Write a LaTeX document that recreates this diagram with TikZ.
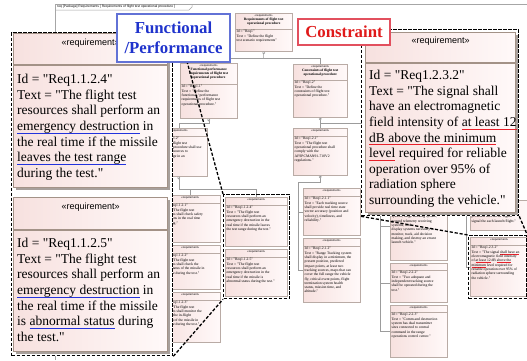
\documentclass[tikz,border=0pt]{standalone}
\usepackage{fontspec}
\setmainfont{Liberation Serif}[Ligatures=TeXOff]
\setsansfont{Liberation Sans}
\usetikzlibrary{shadows}

\definecolor{reqpinkL}{HTML}{F7E1DF}
\definecolor{reqpinkR}{HTML}{FFF9F9}
\definecolor{reqedge}{HTML}{A39287}
\definecolor{minedge}{HTML}{B9ABA5}
\definecolor{wiregray}{HTML}{9C9C9C}
\definecolor{shade}{HTML}{A8A09C}
\definecolor{fpblue}{HTML}{1F33CC}
\definecolor{fpedge}{HTML}{6272D6}
\definecolor{crred}{HTML}{E01A1A}
\definecolor{credge}{HTML}{E2505E}
\definecolor{markblue}{HTML}{2233DD}
\definecolor{markred}{HTML}{E8202A}

% coloured underline below a phrase
\newcommand\markline[2]{\setbox0\hbox{#2}\rlap{\color{#1}\rule[-3.3pt]{\wd0}{1.2pt}}\box0\relax}
\newcommand\minimark[1]{\setbox0\hbox{#1}\rlap{\color{markred}\rule[-0.9pt]{\wd0}{0.3pt}}\box0\relax}

\tikzset{
  minibox/.style={draw=minedge, line width=0.5pt, left color=reqpinkL, right color=reqpinkR,
    inner sep=0pt, drop shadow={shadow xshift=0.8pt, shadow yshift=-0.8pt, fill=shade!70, opacity=1}},
  minisep/.style={draw=minedge, line width=0.4pt},
  minihead/.style={inner sep=0pt, align=center, font=\fontsize{3.5}{4.1}\selectfont},
  minitext/.style={inner xsep=1.5pt, inner ysep=1.2pt, align=left, font=\fontsize{3.7}{4.3}\selectfont},
  bigbox/.style={draw=reqedge, line width=1.4pt, left color=reqpinkL, right color=reqpinkR,
    inner sep=0pt, drop shadow={shadow xshift=2.2pt, shadow yshift=-2.2pt, fill=shade, opacity=1}},
  bigsep/.style={draw=reqedge, line width=1.2pt},
  bighead/.style={inner sep=0pt, font=\sffamily\fontsize{9}{11}\selectfont},
  bigtext/.style={inner sep=0pt, align=left, font=\fontsize{13.5}{15.6}\selectfont},
  hilite/.style={draw=black, line width=1.3pt, dash pattern=on 3.2pt off 1.8pt},
  hilitearea/.style={hilite, fill=white},
  fplabel/.style={draw=fpedge, line width=1.1pt, fill=white, inner sep=0pt, text=fpblue,
    align=center, font=\bfseries\fontsize{16.8}{20}\selectfont},
  crlabel/.style={draw=credge, line width=1.1pt, fill=white, inner sep=0pt, text=crred,
    font=\bfseries\fontsize{16.8}{20}\selectfont},
  wire/.style={draw=wiregray, line width=0.5pt},
  frameline/.style={draw=gray!70, line width=0.5pt},
  ownsym/.style={circle, draw=wiregray, fill=white, line width=0.3pt, inner sep=0pt,
    minimum size=2.4pt, anchor=north,
    path picture={\draw[wiregray, line width=0.3pt]
      (path picture bounding box.north) -- (path picture bounding box.south)
      (path picture bounding box.west) -- (path picture bounding box.east);}},
}

% small requirement block: name, x, y, width, height, header depth, title lines, body
\newcommand\minireq[8]{%
  \node[minibox, anchor=north west, minimum width=#4pt, minimum height=#5pt] (#1) at (#2,#3) {};
  \draw[minisep] ([yshift=-#6pt]#1.north west) -- ([yshift=-#6pt]#1.north east);
  \node[minihead, anchor=north] (#1-h) at ([yshift=-1.2pt]#1.north)
    {{\sffamily\fontsize{2.8}{4.1}\selectfont «requirement»}#7};
  \node[minitext, anchor=north west] (#1-t) at ([yshift=-#6pt]#1.north west) {#8};
}
% block partly covered by a call-out: name, x, y, width, height, text x-offset, text y-offset, visible text
\newcommand\tailreq[8]{%
  \node[minibox, anchor=north west, minimum width=#4pt, minimum height=#5pt] (#1) at (#2,#3) {};
  \node[minitext, anchor=north west] (#1-t) at ([xshift=#6pt, yshift=-#7pt]#1.north west) {#8};
}

\begin{document}
\begin{tikzpicture}[x=1pt, y=-1pt]
\useasboundingbox (0,0) rectangle (527,360);
\clip (0,0) rectangle (527,360);
\fill[white] (0,0) rectangle (527,360);

% diagram frame and its name tab
\draw[frameline] (55,360) |- (530,4);
\draw[frameline] (55,10) -- (189,10) -- (192,7) -- (192,4);
\node[anchor=west, inner sep=0pt, font=\sffamily\fontsize{3.3}{4}\selectfont] (tabtext) at (57,7)
  {req [Package] Requirements [ Requirements of flight test operational procedure ]};

% containment tree
\coordinate (bus1) at (263.5,58);
\coordinate (cjoin) at (320,123);
\coordinate (cright) at (362,123);
\coordinate (t2) at (298,182);
\coordinate (t3) at (380,215);
\coordinate (t4) at (466,215);

% requirement blocks
\minireq{r1}{235}{13}{57}{38}{16}
  {\\\textbf{Requirements of flight test}\\\textbf{operational procedure}}
  {Id = "Req1"\\Text = "Define the flight\\test scenario requirements"}
\minireq{r11}{180}{63}{57}{55}{21}
  {\\\textbf{Functional performance}\\\textbf{requirements of flight test}\\\textbf{operational procedure}}
  {Id = "Req1.1"\\Text = "Define the\\functional / performance\\requirements of flight test\\operational procedure."}
\minireq{r12}{293}{64}{54}{53}{16}
  {\\\textbf{Constraints of flight test}\\\textbf{operational procedure}}
  {Id = "Req1.2"\\Text = "Define the\\constraints of flight test\\operational procedure."}
\node[minibox, anchor=north west, minimum width=57pt, minimum height=48pt] (r112) at (150,128) {};
\draw[minisep] ([yshift=-8pt]r112.north west) -- ([yshift=-8pt]r112.north east);
\node[minihead, anchor=north] (r112-h) at ([yshift=-1.2pt]r112.north)
  {\sffamily\fontsize{2.8}{4.1}\selectfont «requirement»};
\node[minitext, anchor=north west, inner xsep=0pt] (r112-t) at (172.8,136)
  {1.2"\\flight test\\procedure shall use\\sources to\\ge in an};
\minireq{r121}{293}{128}{54}{47}{8}{}
  {Id = "Req1.2.1"\\Text = "The flight test\\operational procedure shall\\comply with the\\AFSPCMAN91-710V2\\regulations."}
\minireq{r1121}{160}{195}{60}{47}{8}{}
  {Id = "Req1.1.2.1"\\Text = "The flight test\\resources shall check safety\\conditions in the real time\\of testing."}
\minireq{r1122}{160}{245}{60}{44}{8}{}
  {Id = "Req1.1.2.2"\\Text = "The flight test\\resources shall check the\\flying status of the missile in\\real time during the test."}
\minireq{r1123}{160}{292}{60}{50}{8}{}
  {Id = "Req1.1.2.3"\\Text = "The flight test\\resources shall monitor the\\state of the in-flight\\location of the missile in\\real time during the test."}
\minireq{r1124}{225}{197}{62}{49}{8}{}
  {Id = "Req1.1.2.4"\\Text = "The flight test\\resources shall perform an\\emergency destruction in the\\real time if the missile leaves\\the test range during the test."}
\minireq{r1125}{225}{249}{62}{47}{8}{}
  {Id = "Req1.1.2.5"\\Text = "The flight test\\resources shall perform an\\emergency destruction in the\\real time if the missile is\\abnormal status during the test."}
\minireq{r1211}{303}{188}{57}{47}{8}{}
  {Id = "Req1.2.1.1"\\Text = "Each tracking source\\shall provide real time state\\vector accuracy (position and\\velocity), timeliness, and\\reliability."}
\minireq{r1212}{303}{238}{57}{64}{8}{}
  {Id = "Req1.2.1.2"\\Text = "Range Tracking system\\shall display in a minimum, the\\present position, predicted\\impact points, at least two\\tracking sources, maps that can\\cover the full range the vehicle\\fly, critical event points, flight\\termination system health\\status, mission time, and\\altitude."}
\tailreq{r1221}{390}{192}{57}{68}{0}{22}
  {system, range tracking system,\\ground telemetry receiving\\systems, and\\display systems necessary to\\monitor, track, aid decision\\making, and destroy an errant\\launch vehicle."}
\minireq{r1222}{390}{263}{57}{39}{7}{}
  {Id = "Req1.2.2.2"\\Text = "Two adequate and\\independent tracking source\\shall be operated during the\\test."}
\minireq{r1223}{390}{305}{57}{52}{7}{}
  {Id = "Req1.2.2.3"\\Text = "Comm and destruction\\system has dual transmitter\\sites connected to central\\command in the range\\operations control center."}
\tailreq{r1231}{470}{200}{60}{30}{0}{14}
  {provided with an RF signal\\signal the each launch/flight."}
\minireq{r1232}{470}{237}{58}{59}{8}{}
  {Id = "Req1.2.3.2"\\Text = "The signal \minimark{shall have an}\\electromagnetic field intensity\\of \minimark{at least 12} dB \minimark{above the}\\\minimark{minimum} level required for\\reliable operation over 95\% of\\radiation sphere surrounding\\the vehicle."}

% containment connectors
\draw[wire] (r1.south) -- (bus1);
\draw[wire] (r11.north) |- (bus1);
\draw[wire] (r12.north) |- (bus1);
\draw[wire] (r11.south) -- ++(0,5) -| (r112.north);
\draw[wire] (r12.south) -- (r121.north);
\draw[wire] (cjoin) -- (cright);
\draw[wire] (r112.south) -- ++(0,13) -| (r1124.north);
\draw[wire] (r1121.north) -- ++(0,-6);
\draw[wire] (r121.south) |- (t2) |- (r1212.west);
\draw[wire] (t2 |- r1211.west) -- (r1211.west);
\draw[wire] (t3) |- (r1223.west);
\draw[wire] (t3 |- r1222.west) -- (r1222.west);
\draw[wire] (t3 |- r1221.west) -- (r1221.west);
\draw[wire] (t4) |- (r1232.west);
\node[ownsym] (o1) at (r1.south) {};
\node[ownsym] (o11) at (r11.south) {};
\node[ownsym] (o12) at (r12.south) {};
\node[ownsym] (o121) at (r121.south) {};
\node[ownsym] (o112) at (r112.south) {};

% highlighted blocks in the diagram
\node[hilite, anchor=north west, minimum width=66pt, minimum height=104pt, inner sep=0pt] (spotA) at (223,194) {};
\node[hilite, anchor=north west, minimum width=58pt, minimum height=63pt, inner sep=0pt] (spotC) at (468,235) {};

% enlarged call-outs
\node[hilitearea, anchor=north west, minimum width=161pt, minimum height=323pt, inner sep=0pt] (zoomA) at (11,32) {};
\coordinate (zoomAtop) at (179,32);
\draw[hilite] (zoomAtop) -- (spotA.north west);
\draw[hilite] (zoomA.south east) -- (spotA.south west);
\node[hilitearea, anchor=north west, minimum width=157pt, minimum height=186pt, inner sep=0pt] (zoomC) at (361,29) {};
\draw[hilite] (zoomC.south west) -- (spotC.north west);
\draw[hilite] (zoomC.south east) -- (spotC.north east);

% enlarged requirement 1.1.2.4
\node[bigbox, anchor=north west, minimum width=154pt, minimum height=154pt] (reqA) at (13,33) {};
\draw[bigsep] ([yshift=-32pt]reqA.north west) -- ([yshift=-32pt]reqA.north east);
\node[bighead] (reqA-h) at ([yshift=-10pt]reqA.north) {«requirement»};
\node[bigtext, anchor=north west] (reqA-t) at (17,72.5)
  {\rule{0pt}{11pt}Id = "Req1.1.2.4"\\
   Text = "The flight test\\
   resources shall perform an\\
   \markline{markblue}{emergency destruction} in\\
   the real time if the missile\\
   \markline{markblue}{leaves the test range}\\
   during the test."};

% enlarged requirement 1.1.2.5
\node[bigbox, anchor=north west, minimum width=154pt, minimum height=154pt] (reqB) at (13,197) {};
\draw[bigsep] ([yshift=-33pt]reqB.north west) -- ([yshift=-33pt]reqB.north east);
\node[bighead] (reqB-h) at ([yshift=-10pt]reqB.north) {«requirement»};
\node[bigtext, anchor=north west] (reqB-t) at (17,236.5)
  {\rule{0pt}{11pt}Id = "Req1.1.2.5"\\
   Text = "The flight test\\
   resources shall perform an\\
   \markline{markblue}{emergency destruction} in\\
   the real time if the missile\\
   is \markline{markblue}{abnormal status} during\\
   the test."};

% enlarged requirement 1.2.3.2
\node[bigbox, anchor=north west, minimum width=150pt, minimum height=180pt] (reqC) at (365,32) {};
\draw[bigsep] ([yshift=-31pt]reqC.north west) -- ([yshift=-31pt]reqC.north east);
\node[bighead] (reqC-h) at ([yshift=-9pt]reqC.north) {«requirement»};
\node[bigtext, anchor=north west] (reqC-t) at (369,68.5)
  {\rule{0pt}{11pt}Id = "Req1.2.3.2"\\
   Text = "The signal shall\\
   have an electromagnetic\\
   field intensity of \markline{markred}{at least 12}\\
   \markline{markred}{dB above the minimum}\\
   \markline{markred}{level} required for reliable\\
   operation over 95\% of\\
   radiation sphere\\
   surrounding the vehicle."};

% category labels
\node[fplabel, minimum width=113pt, minimum height=48pt] (fp) at (173.5,38) {Functional\\/Performance};
\node[crlabel, minimum width=92pt, minimum height=26pt] (cr) at (344,32) {Constraint};

\end{tikzpicture}
\end{document}
